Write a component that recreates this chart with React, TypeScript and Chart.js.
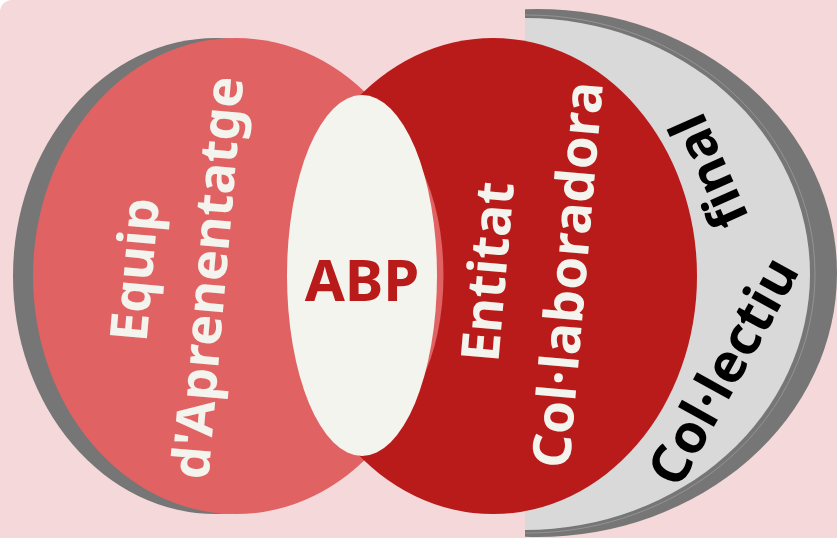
import React, { useEffect, useRef } from "react";
import { Chart, registerables } from "chart.js";

Chart.register(...registerables);

// ---- Data (in chart units: x 0–837, y 0–538, y grows downward) ----
const DOMAIN_X = [0, 837];
const DOMAIN_Y = [0, 538];

// Set shapes (ellipses), drawn in this order
const shapeNames = [
  "Col·lectiu final (ombra)",
  "Col·lectiu final",
  "Equip d'Aprenentatge (ombra)",
  "Equip d'Aprenentatge",
  "Entitat Col·laboradora",
  "ABP (vora)",
  "ABP",
];
const shapeCx = [537, 525, 216, 236, 493, 368, 362];
const shapeCy = [273, 274, 276, 276, 276, 275, 275.5];
const shapeRx = [300, 285, 203, 203, 204, 75.5, 75];
const shapeRy = [264, 256, 238, 238, 238, 150, 180.5];
const shapeClipLeft = [525, 525, null, null, null, null, null];

// Straight labels
const labelTexts = ["Equip", "d'Aprenentatge", "Entitat", "Col·laboradora", "ABP", "Col·lectiu", "final"];
const labelX = [138, 211, 491, 571, 362, 726, 712];
const labelY = [270, 278, 272, 275, 284, 373, 170];
const labelAngle = [-85, -85, -85, -85, 0, -61, -114];

// ---- Styles ----
const PINK = "#f5d9da";
const shapeColors = ["#767676", "#d9d9d9", "#767676", "#e06262", "#b91b1a", "#e06262", "#f4f4ee"];
const labelColors = ["#f4f4ee", "#f4f4ee", "#f4f4ee", "#f4f4ee", "#b91b1a", "#000000", "#000000"];
const labelSizes = [52, 52, 53, 53, 58, 54, 53];
const FONT_FAMILY = "'Noto Sans', 'Open Sans', sans-serif";

const vennPlugin = {
  id: "vennShapes",
  beforeDatasetsDraw(chart: any) {
    const { ctx, scales } = chart;
    const xs = scales.x;
    const ys = scales.y;
    const px = (v: number) => xs.getPixelForValue(v);
    const py = (v: number) => ys.getPixelForValue(v);

    ctx.save();
    // background card
    ctx.fillStyle = PINK;
    ctx.beginPath();
    const x0 = px(DOMAIN_X[0]);
    const y0 = py(DOMAIN_Y[0]);
    ctx.roundRect(x0, y0, px(DOMAIN_X[1]) - x0, py(DOMAIN_Y[1]) - y0, [12, 0, 0, 0]);
    ctx.fill();

    for (let i = 0; i < shapeNames.length; i++) {
      const cx = px(shapeCx[i]);
      const cy = py(shapeCy[i]);
      const rx = Math.abs(px(shapeCx[i] + shapeRx[i]) - cx);
      const ry = Math.abs(py(shapeCy[i] + shapeRy[i]) - cy);
      ctx.save();
      const clip = shapeClipLeft[i];
      if (clip !== null) {
        const cl = px(clip);
        ctx.beginPath();
        ctx.rect(cl, y0, px(DOMAIN_X[1]) - cl, py(DOMAIN_Y[1]) - y0);
        ctx.clip();
      }
      ctx.beginPath();
      ctx.ellipse(cx, cy, rx, ry, 0, 0, Math.PI * 2);
      ctx.fillStyle = shapeColors[i];
      ctx.fill();
      if (i === 0) {
        // faint inner outline in the shadow band
        ctx.beginPath();
        ctx.ellipse(px(527), py(274), Math.abs(px(527 + 288) - px(527)), Math.abs(py(274 + 259) - py(274)), 0, 0, Math.PI * 2);
        ctx.strokeStyle = "#9a9a9a";
        ctx.lineWidth = 0.8;
        ctx.stroke();
      }
      ctx.restore();
    }
    ctx.restore();
  },
  afterDatasetsDraw(chart: any) {
    const { ctx, scales } = chart;
    const px = (v: number) => scales.x.getPixelForValue(v);
    const py = (v: number) => scales.y.getPixelForValue(v);
    ctx.save();
    for (let i = 0; i < labelTexts.length; i++) {
      ctx.save();
      ctx.translate(px(labelX[i]), py(labelY[i]));
      ctx.rotate((labelAngle[i] * Math.PI) / 180);
      ctx.font = `700 ${labelSizes[i]}px ${FONT_FAMILY}`;
      ctx.fillStyle = labelColors[i];
      ctx.textAlign = "center";
      ctx.textBaseline = "middle";
      ctx.fillText(labelTexts[i], 0, 0);
      ctx.restore();
    }
    ctx.restore();
  },
};

export default function App() {
  const ref = useRef<HTMLCanvasElement | null>(null);
  useEffect(() => {
    if (!ref.current) return;
    const chart = new Chart(ref.current, {
      type: "scatter",
      data: {
        datasets: [
          {
            label: "Conjunts",
            data: shapeCx.map((x, i) => ({ x, y: shapeCy[i] })),
            pointRadius: 0,
            pointHoverRadius: 0,
          },
        ],
      },
      options: {
        animation: false,
        responsive: false,
        layout: { padding: 0 },
        plugins: { legend: { display: false }, tooltip: { enabled: false } },
        events: [],
        scales: {
          x: { type: "linear", min: DOMAIN_X[0], max: DOMAIN_X[1], display: false },
          y: { type: "linear", min: DOMAIN_Y[0], max: DOMAIN_Y[1], reverse: true, display: false },
        },
      },
      plugins: [vennPlugin],
    });
    return () => chart.destroy();
  }, []);
  return (
    <div style={{ position: "absolute", left: 0, top: 0, width: 837, height: 538, background: "#ffffff" }}>
      <canvas ref={ref} width={837} height={538} style={{ width: 837, height: 538, display: "block" }} />
    </div>
  );
}
